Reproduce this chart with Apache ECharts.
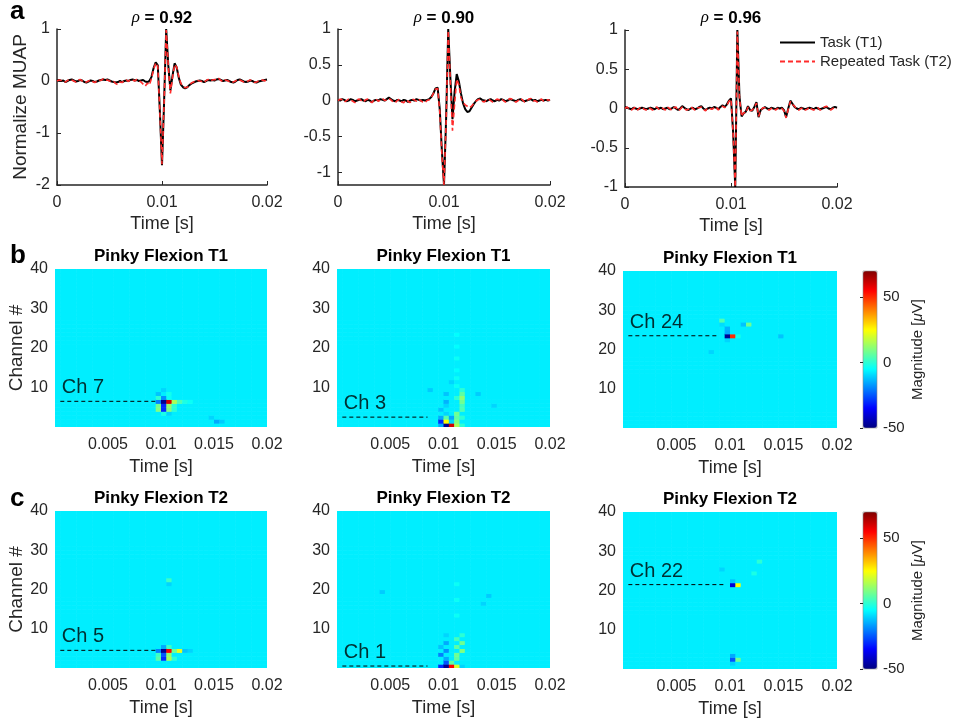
<!DOCTYPE html>
<html>
<head>
<meta charset="utf-8">
<script src="https://cdn.jsdelivr.net/npm/echarts@6/dist/echarts.min.js"></script>
<style>
  html, body { margin: 0; padding: 0; background: #fff; }
  #chart { width: 955px; height: 724px; }
</style>
</head>
<body>
<div id="chart"></div>
<script>
// ---- row a : normalized MUAP waveforms, one sample every 0.2 ms (0 .. 0.02 s)
const TIME_STEP = 0.0002;
const rhoLabels = ['0.92', '0.90', '0.96'];
const seriesNames = ['Task (T1)', 'Repeated Task (T2)'];

const muap1T1 = [0.01,0.02,0.00,0.01,-0.02,0.00,0.02,0.03,0.01,-0.01,0.00,0.02,0.01,-0.02,-0.03,-0.01,0.01,0.00,-0.02,-0.01,
  0.01,0.02,0.03,0.02,0.03,0.01,-0.01,-0.02,-0.03,-0.02,0.00,-0.02,0.00,0.01,0.00,0.02,0.03,0.01,0.02,0.00,
  0.01,0.02,-0.01,-0.02,0.00,0.08,0.25,0.36,0.30,-0.60,-1.62,-0.40,1.00,0.30,-0.18,0.10,0.34,0.26,0.06,-0.07,
  -0.12,-0.14,-0.12,-0.08,-0.05,-0.03,-0.01,0.00,0.01,0.00,-0.02,0.00,0.02,0.01,0.02,0.01,0.03,0.04,0.02,0.00,
  0.01,0.02,0.00,-0.02,-0.03,-0.01,0.02,0.03,0.01,-0.01,-0.02,-0.01,0.01,0.00,-0.02,-0.03,-0.01,0.00,0.01,0.02,0.03];
const muap1T2 = [0.00,0.02,0.01,-0.01,-0.02,0.01,0.03,0.02,0.00,-0.02,0.01,0.03,0.00,-0.03,-0.02,0.00,0.02,-0.01,-0.03,0.00,
  0.02,0.01,0.04,0.01,0.02,0.00,-0.02,-0.01,-0.05,-0.07,-0.02,-0.03,0.01,0.02,-0.01,0.03,0.02,0.00,0.03,0.01,
  -0.02,-0.06,-0.10,-0.04,-0.08,0.05,0.22,0.35,0.28,-0.62,-1.60,-0.42,0.98,0.28,-0.24,0.06,0.32,0.27,0.08,-0.05,
  -0.10,-0.13,-0.12,-0.09,-0.04,-0.02,0.00,0.01,0.00,-0.01,-0.03,0.01,0.03,0.00,0.02,0.03,0.02,0.05,0.01,-0.01,
  0.02,0.01,-0.01,-0.03,-0.02,0.00,0.03,0.02,0.00,-0.02,-0.01,0.00,0.02,-0.01,-0.03,-0.02,0.00,0.01,0.02,0.00,0.04];
const muap2T1 = [0.01,0.00,0.02,0.01,-0.01,0.00,0.02,0.01,-0.01,0.00,0.01,0.02,0.00,-0.01,0.01,0.00,-0.02,0.00,0.01,0.00,
  0.02,0.01,0.00,0.02,0.04,0.02,0.00,-0.01,0.01,0.00,-0.01,0.01,0.00,-0.02,0.00,0.01,0.00,0.02,0.01,0.00,
  0.01,0.00,0.01,0.02,0.05,0.10,0.17,0.18,-0.12,-0.70,-1.18,-0.25,1.00,0.32,-0.26,0.12,0.37,0.27,0.10,-0.04,
  -0.12,-0.16,-0.15,-0.10,-0.05,-0.01,0.02,0.03,0.01,0.00,-0.01,0.01,0.02,0.00,-0.01,0.01,0.00,0.02,0.01,-0.01,
  0.00,0.02,0.01,0.00,-0.01,0.01,0.02,0.00,-0.01,0.00,0.01,0.02,0.00,0.01,-0.01,0.00,0.01,0.00,0.01,0.00,0.01];
const muap2T2 = [0.00,0.02,0.01,-0.02,0.00,0.02,0.01,-0.01,-0.03,0.01,0.02,0.00,-0.02,0.01,0.02,-0.01,-0.03,0.01,0.02,-0.01,
  0.01,0.03,0.00,0.01,0.03,0.01,-0.02,-0.03,0.00,0.02,-0.02,-0.03,0.01,-0.01,-0.03,0.02,0.01,-0.01,0.02,0.00,
  -0.02,-0.03,0.00,0.01,0.04,0.10,0.16,0.17,-0.15,-0.75,-1.18,-0.30,0.98,0.25,-0.42,-0.05,0.30,0.22,0.04,-0.03,
  -0.06,-0.08,-0.10,-0.08,-0.04,-0.01,0.01,0.02,-0.01,-0.02,0.01,0.02,0.00,-0.02,0.00,0.02,0.01,0.03,0.00,-0.02,
  -0.01,0.03,0.02,-0.01,-0.02,0.00,0.03,0.01,-0.02,-0.01,0.02,0.03,-0.01,0.00,-0.02,0.01,0.02,-0.01,0.00,0.01,0.00];
const muap3T1 = [0.02,0.01,0.00,-0.01,0.01,0.00,-0.01,0.00,0.01,0.00,-0.01,0.00,0.01,0.00,-0.01,0.01,0.00,0.01,-0.01,0.00,
  0.01,-0.01,0.00,0.02,0.00,-0.02,0.00,0.03,0.01,-0.01,-0.02,0.00,0.01,-0.01,0.00,0.02,0.03,0.00,-0.02,0.00,
  0.01,0.00,0.02,0.01,-0.01,0.02,0.04,0.02,0.05,0.10,0.13,-0.30,-1.00,1.00,0.15,-0.10,-0.06,-0.04,0.03,-0.02,
  -0.03,0.02,0.08,-0.11,-0.02,0.00,0.02,0.00,-0.01,0.01,0.00,-0.01,0.01,0.00,0.01,-0.02,-0.11,0.00,0.10,0.06,
  0.02,0.00,-0.01,0.01,0.00,-0.01,0.00,0.01,0.00,-0.01,0.01,0.00,-0.01,0.00,0.01,0.02,0.00,-0.01,0.01,0.02,0.01];
const muap3T2 = [0.00,0.02,-0.01,-0.02,0.00,0.02,-0.02,0.01,0.02,-0.01,-0.02,0.01,0.00,-0.02,0.00,0.02,-0.01,0.01,0.00,-0.02,
  0.02,0.00,-0.02,0.01,0.02,-0.03,-0.01,0.02,0.00,-0.02,-0.01,0.02,0.00,-0.02,0.01,0.01,0.02,-0.01,-0.03,0.01,
  0.00,-0.01,0.01,0.02,-0.02,0.01,0.03,0.01,0.04,0.09,0.12,-0.32,-1.00,0.98,0.13,-0.10,-0.05,-0.06,0.02,-0.03,
  -0.02,0.01,0.07,-0.10,-0.03,0.01,0.01,-0.01,-0.02,0.00,0.01,-0.02,0.00,0.01,0.00,-0.03,-0.12,-0.01,0.09,0.05,
  0.03,-0.01,-0.02,0.00,0.01,-0.02,-0.01,0.02,-0.01,-0.02,0.00,0.01,-0.02,-0.01,0.02,0.03,0.01,-0.02,0.00,0.01,0.00];
const muapPanels = [[muap1T1, muap1T2], [muap2T1, muap2T2], [muap3T1, muap3T2]];
const muapYRange = [[-2, 1], [-1.18, 1], [-1, 1]];
const muapYTicks = [[-2, -1, 0, 1], [-1, -0.5, 0, 0.5, 1], [-1, -0.5, 0, 0.5, 1]];

// ---- rows b, c : spatio-temporal MUAP maps, 40 time bins x 40 channels, value in µV
const BIN_WIDTH = 0.0005;
const N_BINS = 40;
const N_CH = 40;
const BASE_UV = -7; // near-uniform background level
const mapTitles = ['Pinky Flexion T1', 'Pinky Flexion T1', 'Pinky Flexion T1',
                   'Pinky Flexion T2', 'Pinky Flexion T2', 'Pinky Flexion T2'];
const markChannels = [7, 3, 24, 5, 1, 22];
const markEndTimes = [0.0097, 0.0085, 0.0088, 0.0097, 0.0085, 0.0095];
const markStartTime = 0.0005;
// [time bin, channel, value]
const hotB1 = [[19,7,-20],[20,7,-48],[21,7,60],[22,7,15],[23,7,4],[24,7,-2],[25,7,-4],
  [19,8,0],[20,8,-18],[21,8,-4],[19,9,-12],[21,9,-3],[20,10,-10],
  [19,6,8],[20,6,-30],[21,6,12],[22,6,0],[19,5,10],[20,5,-30],[21,5,10],[22,5,0],
  [20,4,-2],[21,4,-10],[29,3,-10],[30,2,-15],[31,2,-11]];
const hotB2 = [[19,1,-15],[20,1,-48],[21,1,60],[22,1,15],[23,1,0],
  [19,2,-30],[20,2,25],[21,2,-10],[22,2,10],[19,3,-15],[20,3,5],[21,3,-15],[22,3,6],[23,3,0],
  [20,4,-10],[22,4,8],[19,5,-12],[23,5,4],[20,6,-10],[23,6,3],[20,7,-14],[23,7,8],
  [22,8,0],[23,8,12],[20,9,-12],[23,9,6],[23,10,0],[22,11,-4],[21,12,-10],[22,13,-4],
  [22,15,-5],[22,18,-4],[22,21,-5],[22,24,-5],[17,10,-11],[26,9,-11],[29,6,-10]];
const hotB3 = [[19,24,-48],[20,24,50],[21,24,-3],[19,25,-15],[19,26,-14],[18,27,-9],[18,28,4],
  [22,27,-12],[23,27,8],[29,24,-12],[19,23,-10],[16,20,-10]];
const hotC1 = [[19,5,-20],[20,5,-48],[21,5,55],[22,5,8],[23,5,22],[24,5,-12],
  [19,4,2],[20,4,-25],[21,4,12],[19,3,5],[20,3,-30],[21,3,15],[22,3,0],
  [20,6,-15],[21,6,2],[21,23,2],[21,22,-10],[25,5,-10]];
const hotC2 = [[19,1,-30],[20,1,-48],[21,1,55],[22,1,20],[23,1,-10],[20,2,-25],[21,2,6],
  [20,3,-15],[22,3,6],[19,4,-20],[22,4,8],[20,5,-18],[23,5,10],[19,6,-12],[22,6,6],
  [20,7,-15],[23,7,8],[22,8,3],[20,9,-10],[23,9,0],[22,14,-4],[22,18,-4],[22,22,-4],
  [8,20,-11],[28,19,-11],[27,17,-10]];
const hotC3 = [[20,22,-40],[21,22,25],[20,23,-12],[20,2,-10],[20,3,-25],[21,3,8],[20,4,-15],
  [25,28,0],[24,25,-2],[18,26,-10]];
const hotMaps = [hotB1, hotB2, hotB3, hotC1, hotC2, hotC3];
const colorbarTicks = [-50, 0, 50];
const JET = ['#000080', '#0000ff', '#0080ff', '#00ffff', '#80ff80', '#ffff00', '#ff8000', '#ff0000', '#800000'];

const FONT = 'Liberation Sans, Arial, Helvetica, sans-serif';
const AX = '#262626';

const lineGrids = [
  { left: 57, top: 29, width: 210, height: 156 },
  { left: 338, top: 29, width: 212, height: 156 },
  { left: 625, top: 30, width: 212, height: 157 }
];
const mapGrids = [
  { left: 55, top: 269, width: 212, height: 158 },
  { left: 337, top: 269, width: 213, height: 158 },
  { left: 623, top: 271, width: 214, height: 157 },
  { left: 55, top: 511, width: 212, height: 157 },
  { left: 337, top: 511, width: 213, height: 157 },
  { left: 623, top: 512, width: 214, height: 157 }
];
const barGrids = [
  { left: 863, top: 271, width: 14, height: 157 },
  { left: 863, top: 512, width: 14, height: 157 }
];

function toPairs(vals) {
  return vals.map((v, i) => [+(i * TIME_STEP).toFixed(4), v]);
}

function buildCells(hot) {
  const lookup = {};
  hot.forEach(h => { lookup[h[0] + '_' + h[1]] = h[2]; });
  const cells = [];
  for (let b = 0; b < N_BINS; b++) {
    for (let c = 1; c <= N_CH; c++) {
      const v = lookup[b + '_' + c];
      cells.push([+(b * BIN_WIDTH).toFixed(4), c, v === undefined ? BASE_UV : v]);
    }
  }
  return cells;
}

function renderCell(params, api) {
  const t = api.value(0), c = api.value(1);
  const p0 = api.coord([t, c]);
  const p1 = api.coord([t + BIN_WIDTH, c - 1]);
  return {
    type: 'rect',
    shape: { x: p0[0], y: p0[1], width: p1[0] - p0[0] + 0.6, height: p1[1] - p0[1] + 0.6 },
    style: { fill: api.visual('color') }
  };
}

const hideZero = v => (Math.abs(v) < 1e-9 ? '' : String(+v.toFixed(4)));

const grid = [], xAxis = [], yAxis = [], series = [], graphic = [];

// row a
lineGrids.forEach((g, k) => {
  grid.push(g);
  xAxis.push({
    gridIndex: k, type: 'value', min: 0, max: 0.02, interval: 0.01,
    axisLine: { show: true, onZero: false, lineStyle: { color: AX, width: 1.5 } },
    axisTick: { show: true, inside: true, length: 4, lineStyle: { color: AX } },
    splitLine: { show: false },
    axisLabel: { fontSize: 16, color: AX, fontFamily: FONT, margin: 10, showMaxLabel: true, showMinLabel: true },
    name: 'Time [s]', nameLocation: 'middle', nameGap: 30,
    nameTextStyle: { fontSize: 18, color: AX, fontFamily: FONT }
  });
  yAxis.push({
    gridIndex: k, type: 'value', min: muapYRange[k][0], max: muapYRange[k][1],
    axisLine: { show: true, onZero: false, lineStyle: { color: AX, width: 1.5 } },
    axisTick: { show: true, inside: true, length: 4, lineStyle: { color: AX }, customValues: muapYTicks[k] },
    splitLine: { show: false },
    axisLabel: { fontSize: 16, color: AX, fontFamily: FONT, margin: 7, customValues: muapYTicks[k] },
    name: k === 0 ? 'Normalize MUAP' : '', nameLocation: 'middle', nameGap: 27,
    nameTextStyle: { fontSize: 19, color: AX, fontFamily: FONT }
  });
  series.push({
    type: 'line', name: seriesNames[0], xAxisIndex: k, yAxisIndex: k,
    data: toPairs(muapPanels[k][0]), symbol: 'none', showSymbol: false,
    lineStyle: { color: '#000', width: 2 }, itemStyle: { color: '#000' }
  });
  series.push({
    type: 'line', name: seriesNames[1], xAxisIndex: k, yAxisIndex: k,
    data: toPairs(muapPanels[k][1]), symbol: 'none', showSymbol: false,
    lineStyle: { color: '#ff2b2b', width: 1.6, type: [5, 3] }, itemStyle: { color: '#ff2b2b' }
  });
  graphic.push({
    type: 'text', x: g.left + g.width / 2, y: 18,
    style: {
      text: '{i|ρ}{b| = ' + rhoLabels[k] + '}', textAlign: 'center', textVerticalAlign: 'middle',
      rich: {
        i: { fontStyle: 'italic', fontSize: 17, fontFamily: 'Liberation Serif, serif', fill: '#000' },
        b: { fontWeight: 'bold', fontSize: 17, fontFamily: FONT, fill: '#000' }
      }
    }
  });
});

// rows b, c
const heatSeriesIdx = [];
mapGrids.forEach((g, m) => {
  const gi = grid.length;
  grid.push(g);
  xAxis.push({
    gridIndex: gi, type: 'value', min: 0, max: 0.02, interval: 0.005,
    axisLine: { show: false }, axisTick: { show: false }, splitLine: { show: false },
    axisLabel: { fontSize: 16, color: AX, fontFamily: FONT, margin: 10, formatter: hideZero, showMaxLabel: true },
    name: 'Time [s]', nameLocation: 'middle', nameGap: 31,
    nameTextStyle: { fontSize: 18, color: AX, fontFamily: FONT }
  });
  yAxis.push({
    gridIndex: gi, type: 'value', min: 0, max: N_CH, interval: 10,
    axisLine: { show: false }, axisTick: { show: false }, splitLine: { show: false },
    axisLabel: { fontSize: 16, color: AX, fontFamily: FONT, margin: 7, formatter: hideZero, showMaxLabel: true },
    name: m % 3 === 0 ? 'Channel #' : '', nameLocation: 'middle', nameGap: 29,
    nameTextStyle: { fontSize: 19, color: AX, fontFamily: FONT }
  });
  heatSeriesIdx.push(series.length);
  series.push({
    type: 'custom', xAxisIndex: gi, yAxisIndex: gi, clip: true,
    data: buildCells(hotMaps[m]), encode: { x: 0, y: 1 }, renderItem: renderCell, silent: true
  });
  const chY = markChannels[m] - 0.5;
  series.push({
    type: 'line', xAxisIndex: gi, yAxisIndex: gi, symbol: 'none', silent: true, z: 5,
    data: [[markStartTime, chY], [markEndTimes[m], chY]],
    lineStyle: { color: '#000', width: 1, type: [4, 3] }
  });
  series.push({
    type: 'scatter', xAxisIndex: gi, yAxisIndex: gi, symbolSize: 1, silent: true, z: 6,
    itemStyle: { color: 'rgba(0,0,0,0)' },
    data: [[markStartTime, chY]],
    label: {
      show: true, formatter: 'Ch ' + markChannels[m], position: [2, -3],
      align: 'left', verticalAlign: 'bottom', fontSize: 20, color: '#000', fontFamily: FONT
    }
  });
  graphic.push({
    type: 'text', x: g.left + g.width / 2, y: g.top - 13,
    style: {
      text: mapTitles[m], textAlign: 'center', textVerticalAlign: 'middle',
      font: 'bold 17px ' + FONT, fill: '#000'
    }
  });
});

// colorbars (axis + frame; the colour ramp itself comes from the visualMap)
barGrids.forEach(g => {
  const gi = grid.length;
  grid.push(Object.assign({ show: true, borderColor: '#8c8c8c', borderWidth: 0.6, backgroundColor: 'transparent', z: 10 }, g));
  xAxis.push({ gridIndex: gi, type: 'value', min: 0, max: 1, show: false });
  yAxis.push({
    gridIndex: gi, type: 'value', position: 'right', min: -50, max: 70, interval: 50, z: 10,
    axisLine: { show: false }, splitLine: { show: false },
    axisTick: { show: true, inside: true, length: 3, lineStyle: { color: AX }, customValues: colorbarTicks },
    axisLabel: { fontSize: 15, color: AX, fontFamily: FONT, margin: 6, customValues: colorbarTicks },
    name: '{a|Magnitude [}{i|μ}{a|V]}', nameLocation: 'middle', nameGap: 33,
    nameTextStyle: {
      color: AX, fontFamily: FONT, fontSize: 15,
      rich: { a: { fontSize: 15, color: AX, fontFamily: FONT }, i: { fontSize: 15, color: AX, fontStyle: 'italic', fontFamily: FONT } }
    }
  });
});

// the continuous visualMap draws its bar 15px inside its box
const VM_INSET = 15;
const visualMap = [
  { seriesIndex: heatSeriesIdx.slice(0, 3), top: barGrids[0].top - VM_INSET },
  { seriesIndex: heatSeriesIdx.slice(3, 6), top: barGrids[1].top - VM_INSET }
].map(v => ({
  type: 'continuous', min: -50, max: 70, dimension: 2, seriesIndex: v.seriesIndex,
  left: barGrids[0].left - VM_INSET, top: v.top, itemWidth: 14, itemHeight: 157, calculable: false,
  hoverLink: false, orient: 'vertical', inRange: { color: JET }
}));

// panel letters
[['a', 20], ['b', 264], ['c', 507]].forEach(([ch, base]) => {
  graphic.push({
    type: 'text', x: 10, y: base + 5,
    style: { text: ch, font: 'bold 26px ' + FONT, fill: '#000', textVerticalAlign: 'bottom' }
  });
});

const chart = echarts.init(document.getElementById('chart'), null, { renderer: 'canvas' });
chart.setOption({
  backgroundColor: '#fff',
  animation: false,
  grid, xAxis, yAxis, series, visualMap, graphic,
  legend: {
    data: seriesNames, orient: 'vertical', left: 774, top: 30,
    itemWidth: 35, itemHeight: 14, itemGap: 4, selectedMode: false,
    itemStyle: { opacity: 0 },
    textStyle: { fontSize: 15, color: AX, fontFamily: FONT }
  }
});
</script>
</body>
</html>
